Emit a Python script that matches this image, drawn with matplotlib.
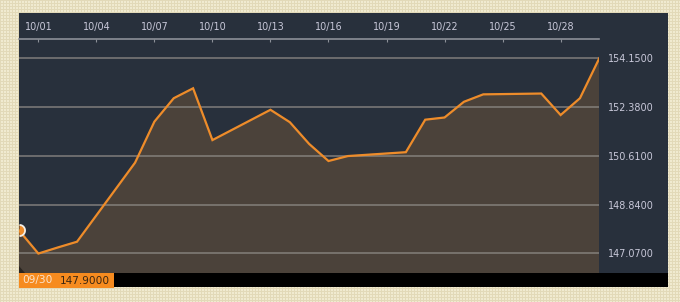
import matplotlib
matplotlib.use("Agg")
import matplotlib.pyplot as plt
from matplotlib.patches import Rectangle, Polygon
from matplotlib.path import Path
import numpy as np
import pandas as pd

# daily closes, 09/30 -> 10/30 (weekdays only)
dates = ['09/30', '10/01', '10/02', '10/03', '10/06', '10/07', '10/08', '10/09',
         '10/10', '10/13', '10/14', '10/15', '10/16', '10/17', '10/20', '10/21',
         '10/22', '10/23', '10/24', '10/27', '10/28', '10/29', '10/30']
values = [147.90, 147.06, 147.28, 147.49, 150.36, 151.85, 152.70, 153.06,
          151.18, 152.28, 151.83, 151.04, 150.42, 150.60, 150.74, 151.92,
          152.00, 152.57, 152.84, 152.87, 152.09, 152.70, 154.15]

tick_labels = ['10/01', '10/04', '10/07', '10/10', '10/13', '10/16',
               '10/19', '10/22', '10/25', '10/28']
y_ticks = [147.07, 148.84, 150.61, 152.38, 154.15]

W, H = 680, 302


def fx(x):
    return x / W


def fy(y):
    return 1 - y / H


start = pd.to_datetime('2025/' + dates[0])
days = [(pd.to_datetime('2025/' + d) - start).days for d in dates]
tick_days = [(pd.to_datetime('2025/' + d) - start).days for d in tick_labels]

fig = plt.figure(figsize=(W / 100, H / 100), dpi=100)
fig.patch.set_facecolor('#EEE6C8')

# beige checkered background
bg = np.zeros((H, W, 3))
bg[:, :] = [0.945, 0.918, 0.816]
bg[::3, :] = [0.890, 0.851, 0.722]
bg[:, ::3] = [0.890, 0.851, 0.722]
fig.figimage(bg, xo=0, yo=0, zorder=-10)

# dark panel and black bottom bar
fig.patches.append(Rectangle((fx(19), fy(287)), fx(668) - fx(19), fy(13) - fy(287),
                             transform=fig.transFigure, facecolor='#28303C',
                             edgecolor='none', zorder=-5))
fig.patches.append(Rectangle((fx(19), fy(287)), fx(668) - fx(19), fy(272.7) - fy(287),
                             transform=fig.transFigure, facecolor='#000000',
                             edgecolor='none', zorder=-4))

ax = fig.add_axes([fx(19), fy(272.7), fx(599.3) - fx(19), fy(39) - fy(272.7)])
ax.set_zorder(2)
ax.set_facecolor('none')

line_c = '#EE8C2A'
ax.fill_between(days, values, 140, color='#4B423A', zorder=1)
for v in y_ticks:
    ax.axhline(v, color='#8E8A86', lw=1.1, alpha=0.85, zorder=2)
ax.plot(days, values, color=line_c, lw=1.6, zorder=3, solid_joinstyle='miter')

# start marker: only the right half shows at the panel edge
t = np.linspace(-np.pi / 2, np.pi / 2, 25)
half = Path(np.column_stack([np.cos(t), np.sin(t)]))
ax.plot(days[0], values[0], marker=half, ms=8, mfc=line_c, mec='#F4EEE6',
        mew=1.3, ls='none', zorder=4)

ax.set_xlim(0, days[-1])
ax.set_ylim(146.365, 154.85)

ax.xaxis.tick_top()
ax.set_xticks(tick_days)
ax.set_xticklabels(tick_labels)
ax.tick_params(axis='x', direction='in', length=2.5, width=0.8, color='#8C9098',
               labelcolor='#C9C9DA', labelsize=6.9, pad=5)

ax.yaxis.tick_right()
ax.set_yticks(y_ticks)
ax.set_yticklabels(['%.4f' % v for v in y_ticks])
ax.tick_params(axis='y', length=0, labelcolor='#C9C9DA', labelsize=6.9, pad=6.5)

for s in ['left', 'right', 'bottom']:
    ax.spines[s].set_visible(False)
ax.spines['top'].set_color('#8C9098')
ax.spines['top'].set_linewidth(1.2)

# small corner notch
fig.patches.append(Polygon([(fx(19), fy(266)), (fx(19), fy(272.7)), (fx(25), fy(272.7))],
                           closed=True, transform=fig.transFigure,
                           facecolor='#2A2520', edgecolor='none', zorder=5))

# orange value box
fig.patches.append(Rectangle((fx(19), fy(287.7)), fx(114) - fx(19), fy(272.7) - fy(287.7),
                             transform=fig.transFigure, facecolor='#F68B1F',
                             edgecolor='none', zorder=6))
fig.text(fx(22), fy(280.5), dates[0], color='#FBE3CC', fontsize=7.6,
         va='center', ha='left', zorder=7)
fig.text(fx(110), fy(280.5), '%.4f' % values[0], color='#3A2612', fontsize=7.6,
         va='center', ha='right', zorder=7)

fig.savefig('out.png', dpi=100)
